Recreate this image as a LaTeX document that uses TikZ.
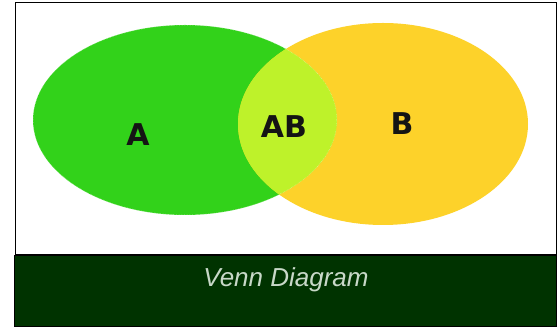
\documentclass[tikz,border=0pt]{standalone}
\usepackage{fontspec}
\setmainfont{DejaVu Sans}
\newfontfamily\captionfont{Liberation Sans}
\definecolor{setA}{RGB}{50,210,26}
\definecolor{setB}{RGB}{253,210,42}
\definecolor{setAB}{RGB}{190,242,42}
\definecolor{band}{RGB}{0,51,0}
\definecolor{bandtext}{RGB}{200,216,200}
\definecolor{labeltext}{RGB}{20,20,20}
\tikzset{
  setlabel/.style={font=\fontsize{30}{30}\selectfont\bfseries, text=labeltext, inner sep=0pt},
  captionstyle/.style={font=\captionfont\itshape\fontsize{26}{26}\selectfont, text=bandtext, inner sep=0pt}
}
\begin{document}
\begin{tikzpicture}[x=1pt,y=-1pt]
\useasboundingbox (0,0) rectangle (558,328);
\fill[white] (0,0) rectangle (558,328);
% frame
\draw[black, line width=1pt] (15,3) rectangle (556,255);
% ellipses
\fill[setA] (185,120) ellipse [x radius=152, y radius=95];
\fill[setB] (383,124) ellipse [x radius=145, y radius=101];
\begin{scope}
  \clip (185,120) ellipse [x radius=152, y radius=95];
  \fill[setAB] (383,124) ellipse [x radius=145, y radius=101];
  \draw[white, opacity=0.6, line width=0.6pt, densely dotted] (185,120) ellipse [x radius=152, y radius=95];
\end{scope}
% labels
\node[setlabel] (A) at (138,135) {A};
\node[setlabel] (AB) at (284,127) {AB};
\node[setlabel] (B) at (402,124) {B};
% caption band
\fill[band] (14,256) rectangle (556,327);
\draw[black, line width=1pt] (14,256) rectangle (556,327);
\node[captionstyle] (cap) at (286,280) {Venn Diagram};
\end{tikzpicture}
\end{document}
